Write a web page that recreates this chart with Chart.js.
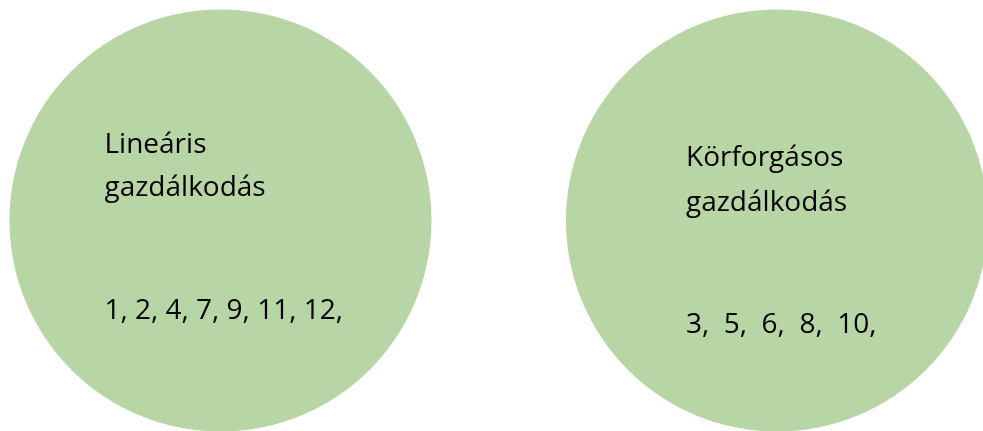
<!DOCTYPE html>
<html>
<head>
<meta charset="utf-8">
<script src="https://cdn.jsdelivr.net/npm/chart.js@4.4.0/dist/chart.umd.min.js"></script>
<style>
  html, body { margin: 0; padding: 0; background: #fff; }
  #wrap { width: 983px; height: 431px; }
</style>
</head>
<body>
<div id="wrap"><canvas id="circles"></canvas></div>
<script>
// two groups, each with its title lines and numbered items
const categories = ["Lineáris", "Körforgásos"];
const titleLines = [
  ["Lineáris", "gazdálkodás"],
  ["Körforgásos", "gazdálkodás"]
];
const linearItems = [1, 2, 4, 7, 9, 11, 12];
const circularItems = [3, 5, 6, 8, 10];
const itemLists = [linearItems.join(", ") + ",", circularItems.join(",  ") + ","];

// text placement relative to each circle centre
const textStyle = [
  { dx: -116, lines: [-68, -25], items: 98 },
  { dx: -91, lines: [-55, -10], items: 112 }
];

const labelPlugin = {
  id: "circleLabels",
  afterDatasetsDraw(chart) {
    const ctx = chart.ctx;
    const meta = chart.getDatasetMeta(0);
    ctx.save();
    ctx.fillStyle = "#000";
    ctx.font = "28px 'Open Sans'";
    ctx.textBaseline = "alphabetic";
    meta.data.forEach((pt, i) => {
      const st = textStyle[i];
      titleLines[i].forEach((line, j) => {
        ctx.fillText(line, pt.x + st.dx, pt.y + st.lines[j]);
      });
      ctx.fillText(itemLists[i], pt.x + st.dx, pt.y + st.items);
    });
    ctx.restore();
  }
};

new Chart(document.getElementById("circles"), {
  type: "scatter",
  data: {
    datasets: [{
      data: categories.map((c, i) => ({ x: i, y: 0 })),
      backgroundColor: "#b8d5a5",
      borderWidth: 0,
      pointRadius: 211,
      pointHoverRadius: 211,
      clip: false
    }]
  },
  options: {
    responsive: true,
    maintainAspectRatio: false,
    animation: false,
    events: [],
    layout: { autoPadding: false, padding: { top: 10, left: 0, right: 0, bottom: 0 } },
    plugins: { legend: { display: false }, tooltip: { enabled: false } },
    scales: {
      x: { type: "linear", display: false, min: -0.3962, max: 1.3702 },
      y: { type: "linear", display: false, min: -1, max: 1 }
    }
  },
  plugins: [labelPlugin]
});
</script>
</body>
</html>
